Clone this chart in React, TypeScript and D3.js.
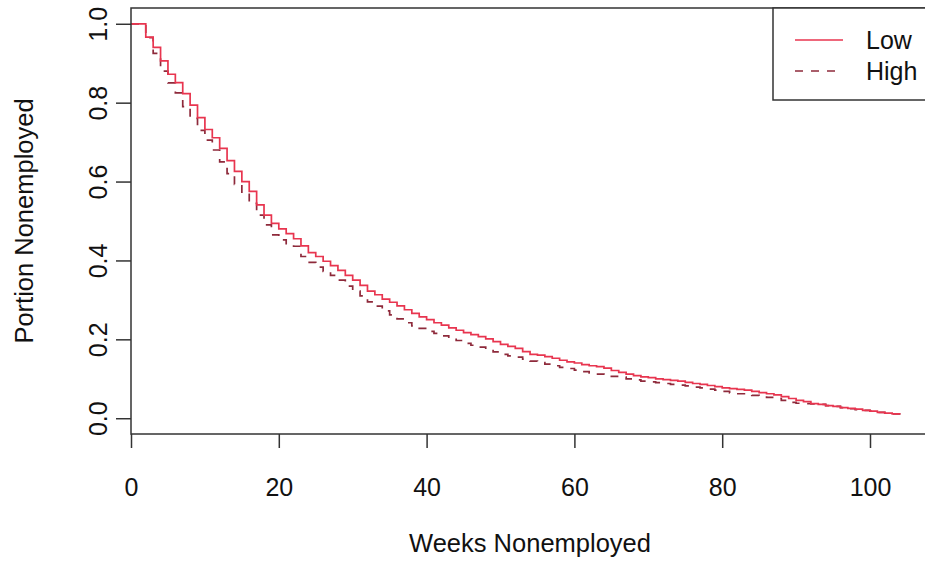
import React, { useRef, useEffect } from 'react'
import * as d3 from 'd3'

// survival estimates, one value per week (index = week)
const lowSurv = [
  1.0, 1.0, 0.966, 0.94, 0.906, 0.872, 0.851, 0.823, 0.794, 0.762,
  0.732, 0.711, 0.684, 0.653, 0.626, 0.6, 0.575, 0.541, 0.515, 0.494,
  0.48, 0.468, 0.455, 0.437, 0.42, 0.41, 0.398, 0.387, 0.375, 0.362,
  0.35, 0.337, 0.322, 0.313, 0.302, 0.294, 0.285, 0.275, 0.266, 0.257,
  0.25, 0.242, 0.236, 0.229, 0.223, 0.217, 0.212, 0.207, 0.201, 0.194,
  0.187, 0.182, 0.177, 0.169, 0.162, 0.16, 0.156, 0.152, 0.147, 0.143,
  0.14, 0.136, 0.133, 0.131, 0.127, 0.121, 0.116, 0.112, 0.108, 0.105,
  0.103, 0.1, 0.098, 0.096, 0.094, 0.091, 0.088, 0.086, 0.083, 0.08,
  0.077, 0.075, 0.073, 0.071, 0.068, 0.065, 0.062, 0.059, 0.055, 0.05,
  0.045, 0.042, 0.037, 0.035, 0.032, 0.03, 0.027, 0.025, 0.023, 0.02,
  0.018, 0.015, 0.013, 0.011, 0.009,
]

const highSurv = [
  1.0, 1.0, 0.965, 0.925, 0.88, 0.85, 0.825, 0.79, 0.76, 0.73,
  0.705, 0.68, 0.65, 0.62, 0.593, 0.57, 0.545, 0.515, 0.49, 0.465,
  0.452, 0.44, 0.436, 0.41, 0.395, 0.383, 0.372, 0.362, 0.35, 0.335,
  0.322, 0.31, 0.295, 0.284, 0.272, 0.262, 0.252, 0.242, 0.234, 0.228,
  0.22, 0.215, 0.209, 0.203, 0.197, 0.19, 0.185, 0.18, 0.175, 0.168,
  0.162, 0.158, 0.155, 0.15, 0.145, 0.141, 0.137, 0.133, 0.129, 0.126,
  0.122, 0.118, 0.115, 0.112, 0.109, 0.106, 0.104, 0.1, 0.097, 0.094,
  0.092, 0.09, 0.088, 0.086, 0.084, 0.082, 0.079, 0.077, 0.074, 0.071,
  0.068, 0.064, 0.062, 0.06, 0.058, 0.056, 0.053, 0.05, 0.045, 0.04,
  0.038, 0.037, 0.036, 0.035, 0.032, 0.03, 0.027, 0.024, 0.022, 0.02,
  0.018, 0.015, 0.013, 0.011, 0.009,
]

const xTicks = [0, 20, 40, 60, 80, 100]
const yTicks = [0, 0.2, 0.4, 0.6, 0.8, 1.0]

const legendLabels = ['Low', 'High']

const App = () => {
  const chartRef = useRef(null)

  useEffect(() => {
    const svg = d3.select(chartRef.current)
    svg.selectAll('*').remove()

    const font = '"Liberation Sans", Arial, Helvetica, sans-serif'
    const fontSize = 25
    const axisColor = '#333'
    const lowColor = '#E8354F'
    const highColor = '#8E2A3B'

    // plot region: box runs a bit past the data like R's default padding
    const x = d3.scaleLinear().domain([0, 100]).range([131, 870])
    const y = d3.scaleLinear().domain([-0.04, 1.04]).range([434, 8])

    const line = d3.line()
      .x(d => x(d[0]))
      .y(d => y(d[1]))
      .curve(d3.curveStepAfter)

    // curves
    svg.append('path')
      .datum(highSurv.map((v, i) => [i, v]))
      .attr('d', line)
      .attr('fill', 'none')
      .attr('stroke', highColor)
      .attr('stroke-width', 1.7)
      .attr('stroke-dasharray', '8,8')

    svg.append('path')
      .datum(lowSurv.map((v, i) => [i, v]))
      .attr('d', line)
      .attr('fill', 'none')
      .attr('stroke', lowColor)
      .attr('stroke-width', 1.7)

    // box
    svg.append('rect')
      .attr('x', x(0))
      .attr('y', y(1.04))
      .attr('width', x(108) - x(0))
      .attr('height', y(-0.04) - y(1.04))
      .attr('fill', 'none')
      .attr('stroke', axisColor)
      .attr('stroke-width', 1.5)

    // x axis
    const xAxis = svg.append('g')
      .attr('transform', `translate(0,${y(-0.04)})`)
      .call(d3.axisBottom(x).tickValues(xTicks).tickSize(14).tickPadding(30).tickFormat(d3.format('d')))
    xAxis.select('.domain').remove()
    xAxis.selectAll('line').attr('stroke', axisColor).attr('stroke-width', 1.5)
    xAxis.selectAll('text')
      .attr('font-family', font)
      .attr('font-size', fontSize)
      .attr('fill', '#111')

    // y axis (labels rotated like R's default las = 0)
    const yAxis = svg.append('g')
      .attr('transform', `translate(${x(0)},0)`)
      .call(d3.axisLeft(y).tickValues(yTicks).tickSize(15).tickFormat(d3.format('.1f')))
    yAxis.select('.domain').remove()
    yAxis.selectAll('line').attr('stroke', axisColor).attr('stroke-width', 1.5)
    yAxis.selectAll('text')
      .attr('x', 0)
      .attr('y', 0)
      .attr('dy', null)
      .attr('font-family', font)
      .attr('font-size', fontSize)
      .attr('fill', '#111')
      .attr('text-anchor', 'middle')
      .attr('transform', 'translate(-24,0) rotate(-90)')

    // axis titles
    svg.append('text')
      .attr('x', 530)
      .attr('y', 552)
      .attr('text-anchor', 'middle')
      .attr('font-family', font)
      .attr('font-size', fontSize + 0.5)
      .attr('fill', '#111')
      .text('Weeks Nonemployed')

    svg.append('text')
      .attr('transform', `translate(33,${(y(1.04) + y(-0.04)) / 2}) rotate(-90)`)
      .attr('text-anchor', 'middle')
      .attr('font-family', font)
      .attr('font-size', fontSize + 0.5)
      .attr('fill', '#111')
      .text('Portion Nonemployed')

    // legend
    const legend = svg.append('g')
    legend.append('rect')
      .attr('x', 773)
      .attr('y', y(1.04))
      .attr('width', x(108) - 773)
      .attr('height', 100 - y(1.04))
      .attr('fill', 'white')
      .attr('stroke', axisColor)
      .attr('stroke-width', 1.5)

    legendLabels.forEach((label, i) => {
      const row = legend.append('g').attr('transform', `translate(0,${40 + i * 31})`)
      row.append('line')
        .attr('x1', 795)
        .attr('x2', 843)
        .attr('stroke', i === 0 ? lowColor : highColor)
        .attr('stroke-width', 1.7)
        .attr('stroke-dasharray', i === 0 ? null : '8,8')
      row.append('text')
        .attr('x', 866)
        .attr('y', 9)
        .attr('font-family', font)
        .attr('font-size', fontSize)
        .attr('fill', '#111')
        .text(label)
    })
  }, [])

  return (
    <svg
      ref={chartRef}
      width={925}
      height={563}
      style={{ position: 'absolute', left: 0, top: 0, background: 'white' }}
    />
  )
}

export default App
